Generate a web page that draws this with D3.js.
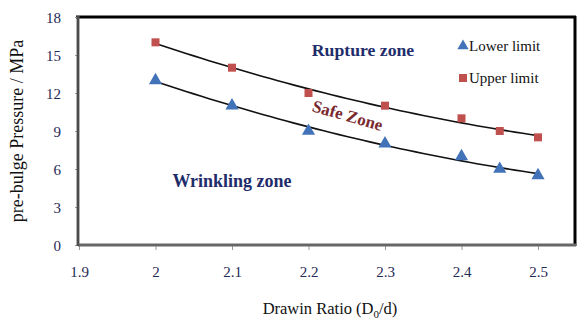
<!DOCTYPE html>
<html>
<head>
<meta charset="utf-8">
<script src="https://cdn.jsdelivr.net/npm/d3@7"></script>
<style>
  html, body { margin: 0; padding: 0; background: #fff; }
  svg { display: block; }
  svg text { font-family: "Liberation Serif", "Times New Roman", Times, "DejaVu Serif", serif; }
</style>
</head>
<body>
<svg id="chart" width="578" height="322"></svg>
<script>
// Drawing ratio vs. pre-bulge pressure limits
const ratios = [2, 2.1, 2.2, 2.3, 2.4, 2.45, 2.5];
const lowerLimit = [13, 11, 9, 8, 7, 6, 5.5];
const upperLimit = [16, 14, 12, 11, 10, 9, 8.5];
const xTicks = [1.9, 2, 2.1, 2.2, 2.3, 2.4, 2.5];
const yTicks = [0, 3, 6, 9, 12, 15, 18];

const svg = d3.select("#chart");

const x = d3.scaleLinear().domain([1.9, 2.5]).range([79, 538]);
const y = d3.scaleLinear().domain([0, 18]).range([245, 17]);
const frameRight = 575;

// Second-order least-squares trendline
function quadFit(xs, ys) {
  let s = [0, 0, 0, 0, 0], t = [0, 0, 0];
  xs.forEach((xv, i) => {
    let p = 1;
    for (let k = 0; k < 5; k++) { s[k] += p; if (k < 3) t[k] += p * ys[i]; p *= xv; }
  });
  const A = [[s[0], s[1], s[2], t[0]], [s[1], s[2], s[3], t[1]], [s[2], s[3], s[4], t[2]]];
  for (let i = 0; i < 3; i++) {
    for (let j = i + 1; j < 3; j++) {
      const f = A[j][i] / A[i][i];
      for (let k = i; k < 4; k++) A[j][k] -= f * A[i][k];
    }
  }
  const c = [0, 0, 0];
  for (let i = 2; i >= 0; i--) {
    let v = A[i][3];
    for (let k = i + 1; k < 3; k++) v -= A[i][k] * c[k];
    c[i] = v / A[i][i];
  }
  return xv => c[0] + c[1] * xv + c[2] * xv * xv;
}

// Plot frame
svg.append("line").attr("x1", 76).attr("x2", frameRight + 1).attr("y1", 17).attr("y2", 17)
  .attr("stroke", "#000").attr("stroke-width", 3);
svg.append("line").attr("x1", frameRight).attr("x2", frameRight).attr("y1", 16).attr("y2", 246)
  .attr("stroke", "#000").attr("stroke-width", 3);

// Axes
const xAxis = d3.axisBottom(x).tickValues(xTicks).tickSize(3).tickSizeOuter(0)
  .tickFormat(d => d3.format("")(d));
const gx = svg.append("g").attr("transform", "translate(0,245)").call(xAxis)
  .attr("font-family", null).attr("font-size", null);
gx.select(".domain").remove();
gx.selectAll(".tick line").attr("stroke", "#999").attr("y1", 1).attr("y2", 5);
gx.selectAll(".tick text").attr("y", 32).attr("dy", 0)
  .attr("font-size", 15).attr("fill", "#1f2a55");

const yAxis = d3.axisLeft(y).tickValues(yTicks).tickSize(4).tickSizeOuter(0);
const gy = svg.append("g").attr("transform", "translate(79,0)").call(yAxis)
  .attr("font-family", null).attr("font-size", null);
gy.select(".domain").remove();
gy.selectAll(".tick line").attr("stroke", "#999").attr("x2", -4);
gy.selectAll(".tick text").attr("x", -18).attr("dy", "0.35em")
  .attr("font-size", 15).attr("fill", "#1f2a55");

svg.append("line").attr("x1", 78).attr("x2", frameRight + 1).attr("y1", 245).attr("y2", 245)
  .attr("stroke", "#666").attr("stroke-width", 3);
svg.append("line").attr("x1", 78).attr("x2", 78).attr("y1", 16).attr("y2", 246)
  .attr("stroke", "#666").attr("stroke-width", 3);
svg.append("line").attr("x1", 78).attr("x2", 78).attr("y1", 16).attr("y2", 246)
  .attr("stroke", "#333").attr("stroke-width", 1);

// Trendlines
const line = d3.line().x(d => x(d[0])).y(d => y(d[1]));
[upperLimit, lowerLimit].forEach(vals => {
  const f = quadFit(ratios, vals);
  const pts = d3.range(0, 51).map(i => { const xv = 2 + i * 0.01; return [xv, f(xv)]; });
  svg.append("path").attr("d", line(pts)).attr("fill", "none")
    .attr("stroke", "#111").attr("stroke-width", 1.6);
});

// Markers
const tri = d3.symbol().type(d3.symbolTriangle).size(75);
svg.append("g").selectAll("path").data(ratios.map((r, i) => [r, lowerLimit[i]])).join("path")
  .attr("d", tri).attr("transform", d => `translate(${x(d[0])},${y(d[1])})`)
  .attr("fill", "#4273b8");
svg.append("g").selectAll("rect").data(ratios.map((r, i) => [r, upperLimit[i]])).join("rect")
  .attr("x", d => x(d[0]) - 4).attr("y", d => y(d[1]) - 4).attr("width", 8).attr("height", 8)
  .attr("fill", "#c0504d");

// Zone labels
svg.append("text").attr("x", 363).attr("y", 56).attr("text-anchor", "middle")
  .attr("font-size", 17.7).attr("font-weight", "bold").attr("fill", "#1f2d6b").text("Rupture zone");
svg.append("text").attr("transform", "translate(346,121) rotate(16)").attr("text-anchor", "middle")
  .attr("font-size", 17).attr("font-weight", "bold").attr("fill", "#7a2a2e").text("Safe Zone");
svg.append("text").attr("x", 232).attr("y", 187).attr("text-anchor", "middle")
  .attr("font-size", 18).attr("font-weight", "bold").attr("fill", "#1f2d6b").text("Wrinkling zone");

// Legend
const legend = svg.append("g");
legend.append("path").attr("d", d3.symbol().type(d3.symbolTriangle).size(55)())
  .attr("transform", "translate(463,46)").attr("fill", "#4273b8");
legend.append("text").attr("x", 469).attr("y", 51).attr("font-size", 15).attr("fill", "#111").text("Lower limit");
legend.append("rect").attr("x", 459).attr("y", 74).attr("width", 8).attr("height", 8).attr("fill", "#c0504d");
legend.append("text").attr("x", 469).attr("y", 83).attr("font-size", 15).attr("fill", "#111").text("Upper limit");

// Axis titles
svg.append("text").attr("transform", "translate(23,131) rotate(-90)").attr("text-anchor", "middle")
  .attr("font-size", 18).attr("fill", "#111").text("pre-bulge Pressure / MPa");
const xt = svg.append("text").attr("x", 330).attr("y", 314).attr("text-anchor", "middle")
  .attr("font-size", 16.5).attr("fill", "#111");
xt.append("tspan").text("Drawin Ratio (D");
xt.append("tspan").attr("font-size", 11).attr("dy", 4).text("0");
xt.append("tspan").attr("dy", -4).text("/d)");
</script>
</body>
</html>
